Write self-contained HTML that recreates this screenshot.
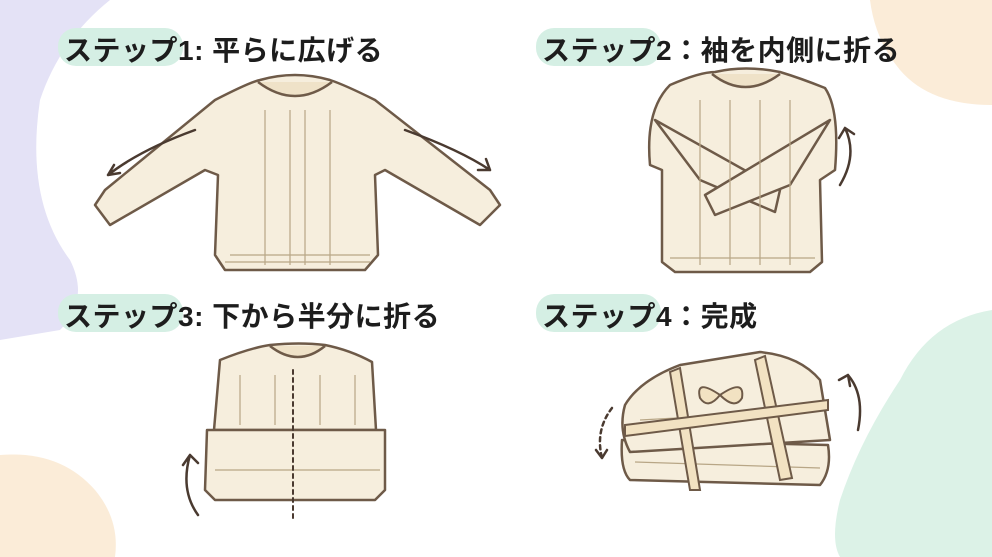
<!DOCTYPE html>
<html><head><meta charset="utf-8"><style>
body{margin:0;width:992px;height:557px;overflow:hidden;background:#fff;font-family:"Liberation Sans","Noto Sans CJK JP",sans-serif}
.l{position:absolute;font-weight:bold;font-size:28px;color:#1d1d1d;white-space:nowrap;letter-spacing:0.5px}
.h{position:absolute;background:#d5efe4;border-radius:18px}
</style></head><body>
<svg width="992" height="557" style="position:absolute;left:0;top:0">
<path d="M0 0 L110 0 Q60 40 40 100 Q25 200 70 260 Q90 300 60 330 L0 340Z" fill="#e4e2f6"/>
<path d="M870 0 L992 0 L992 105 Q930 105 900 70 Q875 40 870 0Z" fill="#fbecd8"/>
<path d="M992 310 Q930 320 900 380 Q860 440 840 500 Q830 540 840 557 L992 557Z" fill="#dcf2e7"/>
<path d="M0 455 Q60 450 95 490 Q120 520 115 557 L0 557Z" fill="#fbecd8"/>
<g fill="#f6eedd" stroke="#6e5a48" stroke-width="2.5" stroke-linejoin="round">
<path d="M215 100 Q250 82 260 80 Q295 70 330 80 Q345 85 375 100 L490 190 L500 205 L480 225 L385 170 L375 175 L378 255 L365 270 L225 270 L215 255 L218 175 L205 170 L110 225 L95 205 L105 190Z"/>
<path d="M258 82 Q295 110 332 82" fill="#efe2c8"/>
<path d="M670 85 Q700 72 715 72 Q745 65 780 72 Q800 78 825 88 Q840 110 835 170 L820 180 L822 262 L810 272 L675 272 L662 262 L662 170 L650 165 Q645 110 670 85Z"/>
<path d="M712 74 Q745 100 780 74" fill="#efe2c8"/>
<path d="M655 120 L780 190 L775 212 L700 180Z"/>
<path d="M830 120 L705 195 L715 215 L790 185Z"/>
<path d="M220 360 Q250 348 270 345 Q300 342 325 345 Q350 350 372 362 L376 430 L214 430Z"/>
<path d="M270 346 Q298 368 325 346" fill="#efe2c8"/>
<path d="M207 430 L385 430 L385 490 L375 500 L215 500 L205 490Z"/>
<path d="M622 440 Q620 470 630 480 L820 485 Q832 470 828 445Z"/>
<path d="M625 405 Q640 380 680 365 L760 352 Q800 356 820 380 L830 440 L630 452 Q618 430 625 405Z"/>
</g>
<g stroke="#b8a686" stroke-width="1.2" fill="none">
<path d="M265 110V265M290 110V265M305 110V265M330 110V265M230 255H370M225 262H370"/>
<path d="M700 100V265M730 100V265M760 100V265M790 100V265M670 258H815"/>
<path d="M240 375V425M275 375V425M320 375V425M355 375V425M215 470H380M640 420L820 410M635 462L820 468"/>
</g>
<g stroke="#4a3a30" stroke-width="2.5" fill="none" stroke-linecap="round">
<path d="M195 130 Q140 150 108 175M108 175l12 -2M108 175l6 -10"/>
<path d="M405 130 Q460 150 490 170M490 170l-4 -11M490 170l-12 0"/>
<path d="M840 185 Q858 155 845 128M845 128l-6 10M845 128l9 6"/>
<path d="M198 515 Q180 490 190 455M190 455l-7 10M190 455l8 8"/>
<path d="M293 370V520" stroke-dasharray="4 4" stroke-width="2"/>
<path d="M612 408 Q595 430 602 458" stroke-dasharray="4 4"/>
<path d="M858 430 Q865 395 848 375M848 375l2 11M848 375l-9 5" />
<path d="M602 458l-6 -8M602 458l5 -8"/>
</g>
<g stroke="#6e5a48" stroke-width="2" fill="#f2e2c2">
<path d="M670 372 L690 490 L700 490 L680 368Z"/>
<path d="M755 360 L780 480 L792 478 L765 356Z"/>
<path d="M625 425 L828 400 L828 410 L625 436Z"/>
<path d="M720 395 Q695 378 700 398 Q708 410 720 395Z M720 395 Q745 378 742 398 Q735 410 720 395Z"/>
</g>
</svg>
<div class="h" style="left:58px;top:28px;width:125px;height:38px"></div>
<div class="l" style="left:64px;top:29px">ステップ1: 平らに広げる</div>
<div class="h" style="left:536px;top:28px;width:125px;height:38px"></div>
<div class="l" style="left:542px;top:29px">ステップ2：袖を内側に折る</div>
<div class="h" style="left:58px;top:294px;width:125px;height:38px"></div>
<div class="l" style="left:64px;top:295px">ステップ3: 下から半分に折る</div>
<div class="h" style="left:536px;top:294px;width:125px;height:38px"></div>
<div class="l" style="left:542px;top:295px">ステップ4：完成</div>
</body></html>
